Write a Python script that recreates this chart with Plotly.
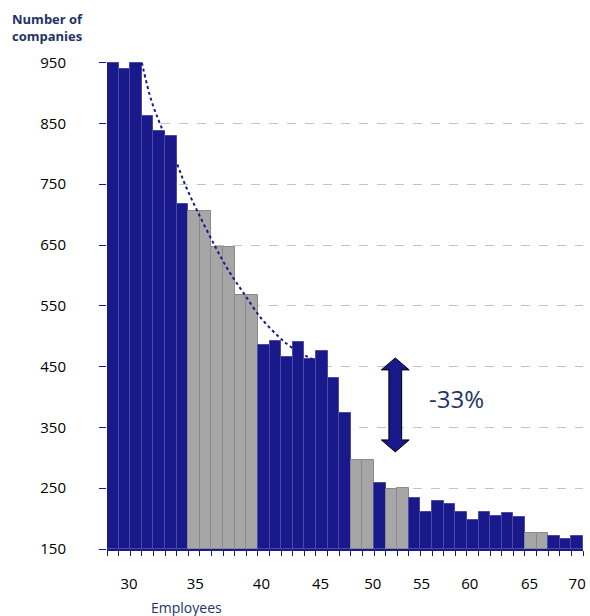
import plotly.graph_objects as go

# ---- data ----
employees = list(range(30, 71))
companies = [950, 940, 950, 863, 838, 830, 717, 706, 706, 646, 646, 568, 568,
             485, 492, 466, 490, 462, 476, 431, 373, 296, 296, 258, 248, 251,
             234, 211, 229, 224, 211, 197, 211, 204, 209, 202, 176, 176, 171,
             166, 171]
gray_bins = [37, 38, 39, 40, 41, 42, 51, 52, 54, 55, 66, 67]

trend_x = [32.5, 33.3, 34.2, 35.5, 36.3, 37.3, 38.75, 40.0, 41.3, 42.8, 44.3, 45.3, 46.8, 48.5]
trend_y = [950, 889, 843, 785, 746, 705, 650, 607, 570, 529, 499, 483, 466, 452]

y_ticks = [150, 250, 350, 450, 550, 650, 750, 850, 950]
x_tick_labels = ["30", "35", "40", "45", "50", "55", "60", "65", "70"]
change_label = "-33%"

BLUE = "#19198C"
GRAY = "#A6A6A6"
NAVY = "#1F3368"

colors = [GRAY if e in gray_bins else BLUE for e in employees]
edge = ["#8A8A8A" if e in gray_bins else "#4B4BA6" for e in employees]

# where the reference chart prints its x labels (layout only)
x_label_pos = [31.4, 37.1, 42.8, 47.9, 52.4, 56.6, 60.75, 65.9, 70.0]

fig = go.Figure()
fig.add_trace(go.Bar(
    x=employees, y=[c - 150 for c in companies], base=150,
    marker=dict(color=colors, line=dict(color=edge, width=1)),
    width=1.0, showlegend=False, hoverinfo="skip",
))
fig.add_trace(go.Scatter(
    x=trend_x, y=trend_y, mode="lines",
    line=dict(color=BLUE, width=2, dash="dot", shape="spline"),
    showlegend=False, hoverinfo="skip",
))

# double-headed arrow
cx, sw, hw = 54.33, 0.55, 1.2
top, top_b, bot, bot_b = 464.3, 444.6, 309.7, 329.4
path = (f"M {cx},{top} L {cx+hw},{top_b} L {cx+sw},{top_b} L {cx+sw},{bot_b} "
        f"L {cx+hw},{bot_b} L {cx},{bot} L {cx-hw},{bot_b} L {cx-sw},{bot_b} "
        f"L {cx-sw},{top_b} L {cx-hw},{top_b} Z")
fig.add_shape(type="path", path=path, xref="x", yref="y",
              fillcolor=BLUE, line=dict(color="black", width=1))

fig.add_annotation(x=59.64, y=398, xref="x", yref="y", text=change_label,
                   showarrow=False, font=dict(family="Open Sans", size=24, color=NAVY))

fig.add_annotation(x=-0.203, y=1.0, xref="paper", yref="paper",
                   xanchor="left", yanchor="bottom", yshift=15,
                   text="<b>Number of<br>companies</b>", align="left", showarrow=False,
                   font=dict(family="Open Sans", size=13, color=NAVY))
fig.add_annotation(x=0.168, y=0, xref="paper", yref="paper",
                   xanchor="center", yanchor="top", yshift=-47,
                   text="Employees", showarrow=False,
                   font=dict(family="Open Sans", size=14, color=NAVY))

fig.update_layout(
    width=590, height=616,
    margin=dict(l=107, r=4, t=62, b=67),
    paper_bgcolor="white", plot_bgcolor="white",
    bargap=0,
    font=dict(family="Open Sans", size=15, color="black"),
)
fig.update_xaxes(
    range=[29.5, 70.5], tickvals=x_label_pos, ticktext=x_tick_labels,
    showgrid=False, zeroline=False, showline=True, linecolor=BLUE, linewidth=1.5,
    ticks="", ticklabelstandoff=20, tickfont=dict(size=15),
    minor=dict(tickmode="linear", tick0=29.5, dtick=1, ticks="outside",
               ticklen=5, tickcolor=BLUE, tickwidth=1, showgrid=False),
)
fig.update_yaxes(
    range=[150, 951], tickvals=y_ticks, ticktext=[str(v) for v in y_ticks],
    showgrid=True, gridcolor="#C4C4C4", griddash="dash", gridwidth=1,
    zeroline=False, showline=False, ticks="outside", ticklen=7, tickcolor=BLUE,
    ticklabelstandoff=30, tickfont=dict(size=15),
)

fig.write_html("out.html")
